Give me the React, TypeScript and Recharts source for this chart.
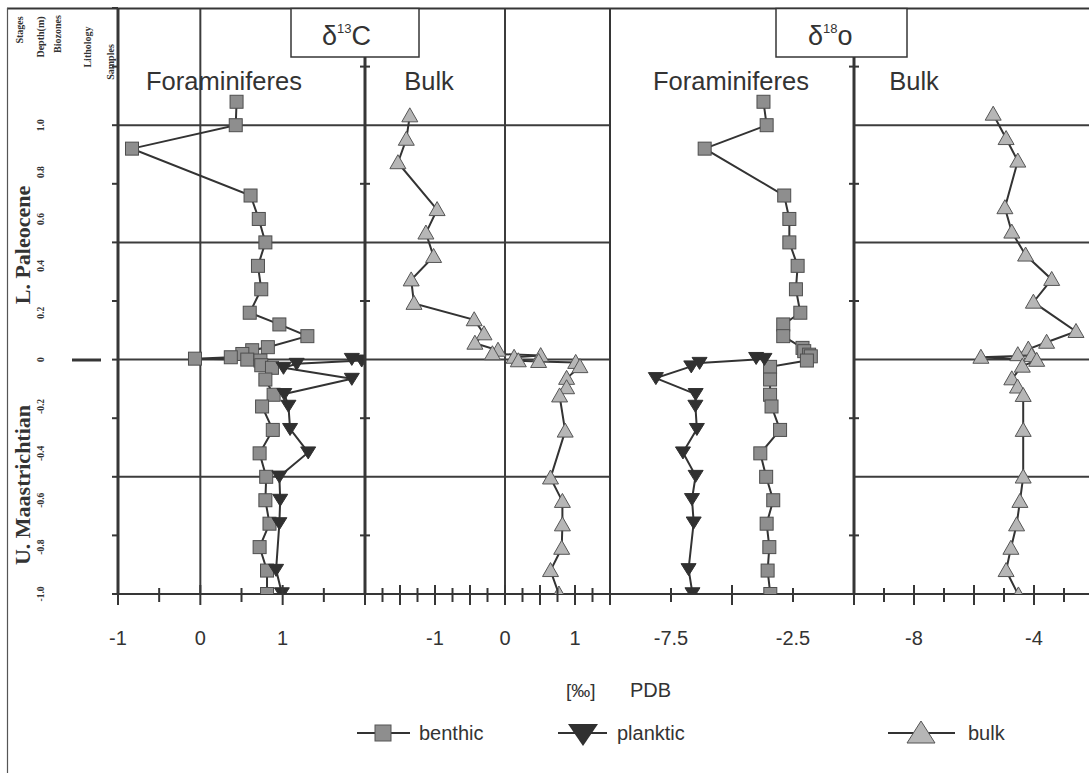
import React from 'react';
import { ScatterChart, Scatter, XAxis, YAxis, CartesianGrid } from 'recharts';

// ---------- data (depth in m, values in permil PDB) ----------
const benthicC13Depths = [1.1, 1.0, 0.9, 0.7, 0.6, 0.5, 0.4, 0.3, 0.2, 0.15, 0.1, 0.053, 0.04, 0.024, 0.01, 0.004, 0.0, -0.004, -0.024, -0.035, -0.085, -0.15, -0.2, -0.3, -0.4, -0.5, -0.6, -0.7, -0.8, -0.9, -1.0];
const benthicC13 = [0.44, 0.43, -0.83, 0.61, 0.71, 0.79, 0.7, 0.74, 0.6, 0.96, 1.3, 0.82, 0.63, 0.51, 0.37, -0.065, 0.57, 0.73, 0.74, 0.87, 0.79, 0.89, 0.75, 0.88, 0.72, 0.8, 0.79, 0.84, 0.72, 0.81, 0.81];

const plankticC13Depths = [0.003, -0.004, -0.018, -0.035, -0.082, -0.147, -0.197, -0.296, -0.396, -0.499, -0.598, -0.698, -0.897, -0.997];
const plankticC13 = [1.84, 1.96, 1.17, 1.01, 1.84, 1.02, 1.07, 1.09, 1.31, 0.96, 0.97, 0.96, 0.92, 0.99];

const bulkC13Depths = [1.04, 0.94, 0.84, 0.64, 0.54, 0.44, 0.34, 0.24, 0.17, 0.11, 0.07, 0.04, 0.025, 0.017, 0.01, -0.005, -0.008, -0.012, -0.03, -0.08, -0.12, -0.155, -0.305, -0.505, -0.605, -0.705, -0.805, -0.9, -1.0];
const bulkC13 = [-1.36, -1.41, -1.53, -0.97, -1.13, -1.02, -1.34, -1.3, -0.44, -0.3, -0.43, -0.1, -0.18, 0.51, 0.13, 0.19, 0.48, 1.01, 1.07, 0.88, 0.88, 0.78, 0.86, 0.65, 0.82, 0.82, 0.81, 0.65, 0.77];

const benthicO18Depths = [1.1, 1.0, 0.9, 0.7, 0.6, 0.5, 0.4, 0.3, 0.2, 0.15, 0.1, 0.05, 0.036, 0.021, 0.014, -0.004, -0.031, -0.085, -0.15, -0.2, -0.3, -0.4, -0.5, -0.6, -0.7, -0.8, -0.9, -1.0];
const benthicO18 = [-3.71, -3.58, -6.12, -2.86, -2.65, -2.65, -2.31, -2.38, -2.2, -2.9, -2.9, -2.11, -2.04, -1.84, -1.77, -1.93, -3.44, -3.44, -3.44, -3.38, -3.03, -3.84, -3.6, -3.31, -3.58, -3.47, -3.54, -3.43];

const plankticO18Depths = [0.007, 0.003, -0.014, -0.029, -0.079, -0.147, -0.197, -0.296, -0.396, -0.496, -0.595, -0.695, -0.894, -0.997];
const plankticO18 = [-4.01, -3.67, -6.33, -6.67, -8.12, -6.49, -6.5, -6.44, -7.01, -6.49, -6.64, -6.57, -6.78, -6.62];

const bulkO18Depths = [1.047, 0.943, 0.847, 0.648, 0.544, 0.446, 0.342, 0.245, 0.12, 0.074, 0.045, 0.021, 0.017, 0.01, -0.003, -0.028, -0.082, -0.117, -0.153, -0.302, -0.501, -0.605, -0.705, -0.805, -0.9, -1.004];
const bulkO18 = [-5.36, -4.93, -4.54, -4.97, -4.74, -4.28, -3.41, -4.02, -2.6, -3.58, -4.19, -4.54, -4.08, -5.77, -3.91, -4.39, -4.74, -4.55, -4.36, -4.36, -4.36, -4.47, -4.58, -4.77, -4.93, -4.52];

// ---------- axes ----------
const depthDomain: [number, number] = [-1, 1.5];
const depthTicks = [-1, -0.8, -0.75, -0.6, -0.5, -0.4, -0.25, -0.2, 0, 0.2, 0.25, 0.4, 0.5, 0.6, 0.75, 0.8, 1, 1.25, 1.5];
const depthLabels = ['1.0', '0.8', '0.6', '0.4', '0.2', '0', '-0.2', '-0.4', '-0.6', '-0.8', '-1.0'];
const depthLabelValues = [1, 0.8, 0.6, 0.4, 0.2, 0, -0.2, -0.4, -0.6, -0.8, -1];
const gridDepths = [-0.5, 0, 0.5, 1];
const dividerTicks = [-0.75, -0.25, 0.25, 0.75, 1.25];

const p1Ticks = [-1, -0.5, 0, 0.5, 1, 1.5, 2];
const p1Labels = [-1, 0, 1];
const p2Ticks = [-2, -1.75, -1.5, -1.25, -1, -0.75, -0.5, -0.25, 0, 0.25, 0.5, 0.75, 1, 1.25, 1.5];
const p2Labels = [-1, 0, 1];
const p3Ticks = [-10, -7.5, -5, -2.5, 0];
const p3Labels = [-7.5, -2.5];
const p4Ticks = [-10, -9, -8, -7, -6, -5, -4, -3, -2];
const p4Labels = [-8, -4];

const zip = (ds: number[], vs: number[]) => ds.map((d, i) => ({ d, v: vs[i] }));

const INK = '#363636';
const SANS = '"Liberation Sans", Arial, sans-serif';
const SERIF = '"Liberation Serif", "Times New Roman", serif';
const PLOT_H = 586;
const AXIS_H = 70;
const CH = PLOT_H + AXIS_H;

// ---------- marker shapes ----------
const Square = (p: any) => (
  <rect x={p.cx - 6.5} y={p.cy - 6.5} width={13} height={13} fill="#8e8e8e" stroke="#4e4e4e" strokeWidth={1} />
);
const TriDown = (p: any) => (
  <path d={`M${p.cx - 7.5},${p.cy - 5.5} L${p.cx + 7.5},${p.cy - 5.5} L${p.cx},${p.cy + 6.5} Z`} fill="#303030" stroke="#303030" strokeWidth={1} />
);
const TriUp = (p: any) => (
  <path d={`M${p.cx - 8},${p.cy + 6} L${p.cx + 8},${p.cy + 6} L${p.cx},${p.cy - 8} Z`} fill="#b6b6b6" stroke="#555" strokeWidth={1} />
);

const fmt = (v: number) => (v === 0 ? '0' : String(v));
const near = (a: number, b: number) => Math.abs(a - b) < 1e-6;

const makeXTick = (labels: number[], isLong: (v: number) => boolean) => (props: any) => {
  const { x, y, payload } = props;
  const v = payload.value as number;
  const L = isLong(v) ? 10 : 7;
  return (
    <g>
      <line x1={x} x2={x} y1={y - L + 1} y2={y + L + 1} stroke={INK} strokeWidth={2} />
      {labels.some((l) => near(l, v)) && (
        <text x={x} y={y + 51} textAnchor="middle" fontFamily={SANS} fontSize={20} fill="#333">
          {fmt(v)}
        </text>
      )}
    </g>
  );
};

const DepthTick = (props: any) => {
  const { x, y, payload } = props;
  const v = payload.value as number;
  const onQuarter = near(v * 4, Math.round(v * 4));
  const idx = depthLabelValues.findIndex((l) => near(l, v));
  return (
    <g>
      {onQuarter && <line x1={x - 6} x2={x} y1={y} y2={y} stroke={INK} strokeWidth={2} />}
      {idx >= 0 && (
        <text
          transform={`translate(41,${y}) rotate(-90)`}
          textAnchor="middle"
          dominantBaseline="central"
          fontFamily={SERIF}
          fontWeight="bold"
          fontSize={9.5}
          fill="#333"
        >
          {depthLabels[idx]}
        </text>
      )}
    </g>
  );
};

const DividerTick = (props: any) => {
  const { x, y } = props;
  return <line x1={x - 5} x2={x + 5} y1={y} y2={y} stroke={INK} strokeWidth={2} />;
};

const lineStyle = { stroke: '#333', strokeWidth: 2 };

function Panel(props: {
  plotLeft: number;
  plotWidth: number;
  yWidth: number;
  xDomain: [number, number];
  xTicks: number[];
  xTick: any;
  yKind: 'depth' | 'divider' | 'plain';
  vertical: number[];
  series: { data: { d: number; v: number }[]; shape: any }[];
}) {
  const { plotLeft, plotWidth, yWidth, xDomain, xTicks, xTick, yKind, vertical, series } = props;
  return (
    <div style={{ position: 'absolute', left: plotLeft - yWidth, top: 8 }}>
      <ScatterChart width={plotWidth + yWidth} height={CH} margin={{ top: 0, right: 0, bottom: 0, left: 0 }}>
        <CartesianGrid
          horizontal
          vertical={vertical.length > 0}
          horizontalValues={gridDepths}
          verticalValues={vertical}
          stroke="#3c3c3c"
          strokeWidth={2}
        />
        <XAxis
          type="number"
          dataKey="v"
          domain={xDomain}
          allowDataOverflow
          ticks={xTicks}
          interval={0}
          tickSize={0}
          tickMargin={0}
          tickLine={false}
          axisLine={{ stroke: INK, strokeWidth: 2 }}
          tick={xTick}
          height={AXIS_H}
        />
        <YAxis
          type="number"
          dataKey="d"
          domain={depthDomain}
          allowDataOverflow
          ticks={yKind === 'depth' ? depthTicks : dividerTicks}
          interval={0}
          width={yWidth}
          tickSize={0}
          tickMargin={0}
          tickLine={false}
          axisLine={{ stroke: INK, strokeWidth: yKind === 'plain' ? 2 : 3 }}
          tick={yKind === 'depth' ? DepthTick : yKind === 'divider' ? DividerTick : false}
        />
        {series.map((s, i) => (
          <Scatter
            key={i}
            data={s.data}
            shape={s.shape}
            line={lineStyle}
            lineJointType="linear"
            isAnimationActive={false}
          />
        ))}
      </ScatterChart>
    </div>
  );
}

const isInt = (v: number) => near(v, Math.round(v));
const isHalf = (v: number) => near(v * 2, Math.round(v * 2));
const isEven = (v: number) => near(v / 2, Math.round(v / 2));

const DeltaLabel = (p: { x: number; sup: string; main: string }) => (
  <text x={p.x} y={45} fontFamily={SANS} fill="#333">
    <tspan fontSize={27}>δ</tspan>
    <tspan fontSize={13} dy={-12}>{p.sup}</tspan>
    <tspan fontSize={27} dy={12}>{p.main}</tspan>
  </text>
);

export default function App() {
  return (
    <div style={{ position: 'absolute', left: 0, top: 0, width: 1089, height: 773, overflow: 'hidden', background: '#fff' }}>
      <style>{`.recharts-surface{overflow:visible}`}</style>
      <Panel
        plotLeft={118}
        plotWidth={247}
        yWidth={118}
        xDomain={[-1, 2]}
        xTicks={p1Ticks}
        xTick={makeXTick(p1Labels, isInt)}
        yKind="depth"
        vertical={[0]}
        series={[
          { data: zip(benthicC13Depths, benthicC13), shape: Square },
          { data: zip(plankticC13Depths, plankticC13), shape: TriDown },
        ]}
      />
      <Panel
        plotLeft={365}
        plotWidth={245}
        yWidth={12}
        xDomain={[-2, 1.5]}
        xTicks={p2Ticks}
        xTick={makeXTick(p2Labels, isHalf)}
        yKind="divider"
        vertical={[0]}
        series={[{ data: zip(bulkC13Depths, bulkC13), shape: TriUp }]}
      />
      <Panel
        plotLeft={610}
        plotWidth={244}
        yWidth={12}
        xDomain={[-10, 0]}
        xTicks={p3Ticks}
        xTick={makeXTick(p3Labels, (v) => near(v, -5))}
        yKind="plain"
        vertical={[]}
        series={[
          { data: zip(benthicO18Depths, benthicO18), shape: Square },
          { data: zip(plankticO18Depths, plankticO18), shape: TriDown },
        ]}
      />
      <Panel
        plotLeft={854}
        plotWidth={240}
        yWidth={12}
        xDomain={[-10, -2]}
        xTicks={p4Ticks}
        xTick={makeXTick(p4Labels, isEven)}
        yKind="divider"
        vertical={[]}
        series={[{ data: zip(bulkO18Depths, bulkO18), shape: TriUp }]}
      />

      <svg style={{ position: 'absolute', left: 0, top: 0, pointerEvents: 'none' }} width={1089} height={773}>
        {/* frame */}
        <line x1={7} x2={1089} y1={8.5} y2={8.5} stroke={INK} strokeWidth={2} />
        <line x1={7.5} x2={7.5} y1={8} y2={773} stroke="#555" strokeWidth={1.2} />

        {/* left column headers */}
        {[
          { t: 'Stages', x: 19, y: 30 },
          { t: 'Depth(m)', x: 40, y: 37 },
          { t: 'Biozones', x: 57, y: 34 },
          { t: 'Lithology', x: 87, y: 47 },
          { t: 'Samples', x: 110, y: 62 },
        ].map((h) => (
          <text
            key={h.t}
            transform={`translate(${h.x},${h.y}) rotate(-90)`}
            textAnchor="middle"
            dominantBaseline="central"
            fontFamily={SERIF}
            fontWeight="bold"
            fontSize={10}
            fill="#333"
          >
            {h.t}
          </text>
        ))}
        <text transform="translate(22,245) rotate(-90)" textAnchor="middle" dominantBaseline="central" fontFamily={SERIF} fontWeight="bold" fontSize={22} fill="#333">
          L. Paleocene
        </text>
        <text transform="translate(22,485) rotate(-90)" textAnchor="middle" dominantBaseline="central" fontFamily={SERIF} fontWeight="bold" fontSize={22} fill="#333">
          U. Maastrichtian
        </text>
        <line x1={72} x2={101} y1={360} y2={360} stroke={INK} strokeWidth={3} />

        {/* boxes */}
        <rect x={291} y={8.5} width={128} height={48.5} fill="#fff" stroke={INK} strokeWidth={1.5} />
        <rect x={776} y={8.5} width={131} height={48.5} fill="#fff" stroke={INK} strokeWidth={1.5} />
        <DeltaLabel x={322} sup="13" main="C" />
        <DeltaLabel x={808} sup="18" main="o" />

        {/* panel titles */}
        <text x={224} y={90} textAnchor="middle" fontFamily={SANS} fontSize={25.5} fill="#333">Foraminiferes</text>
        <text x={429} y={90} textAnchor="middle" fontFamily={SANS} fontSize={25.5} fill="#333">Bulk</text>
        <text x={731} y={90} textAnchor="middle" fontFamily={SANS} fontSize={25.5} fill="#333">Foraminiferes</text>
        <text x={914} y={90} textAnchor="middle" fontFamily={SANS} fontSize={25.5} fill="#333">Bulk</text>

        {/* units */}
        <text x={566} y={697} fontFamily={SANS} fontSize={19} fill="#333">[‰]</text>
        <text x={630} y={697} fontFamily={SANS} fontSize={20} fill="#333">PDB</text>

        {/* legend */}
        <line x1={357} x2={410} y1={733} y2={733} stroke="#333" strokeWidth={2} />
        <rect x={375} y={725} width={16} height={16} fill="#8e8e8e" stroke="#555" strokeWidth={1} />
        <text x={419} y={740} fontFamily={SANS} fontSize={20} fill="#333">benthic</text>

        <line x1={558} x2={607} y1={733} y2={733} stroke="#333" strokeWidth={2} />
        <path d="M568,724 L598,724 L583,746 Z" fill="#303030" />
        <text x={617} y={740} fontFamily={SANS} fontSize={20} fill="#333">planktic</text>

        <line x1={888} x2={955} y1={733} y2={733} stroke="#333" strokeWidth={2} />
        <path d="M907,743 L935,743 L921,721 Z" fill="#b6b6b6" stroke="#555" strokeWidth={1} />
        <text x={968} y={740} fontFamily={SANS} fontSize={20} fill="#333">bulk</text>
      </svg>
    </div>
  );
}
